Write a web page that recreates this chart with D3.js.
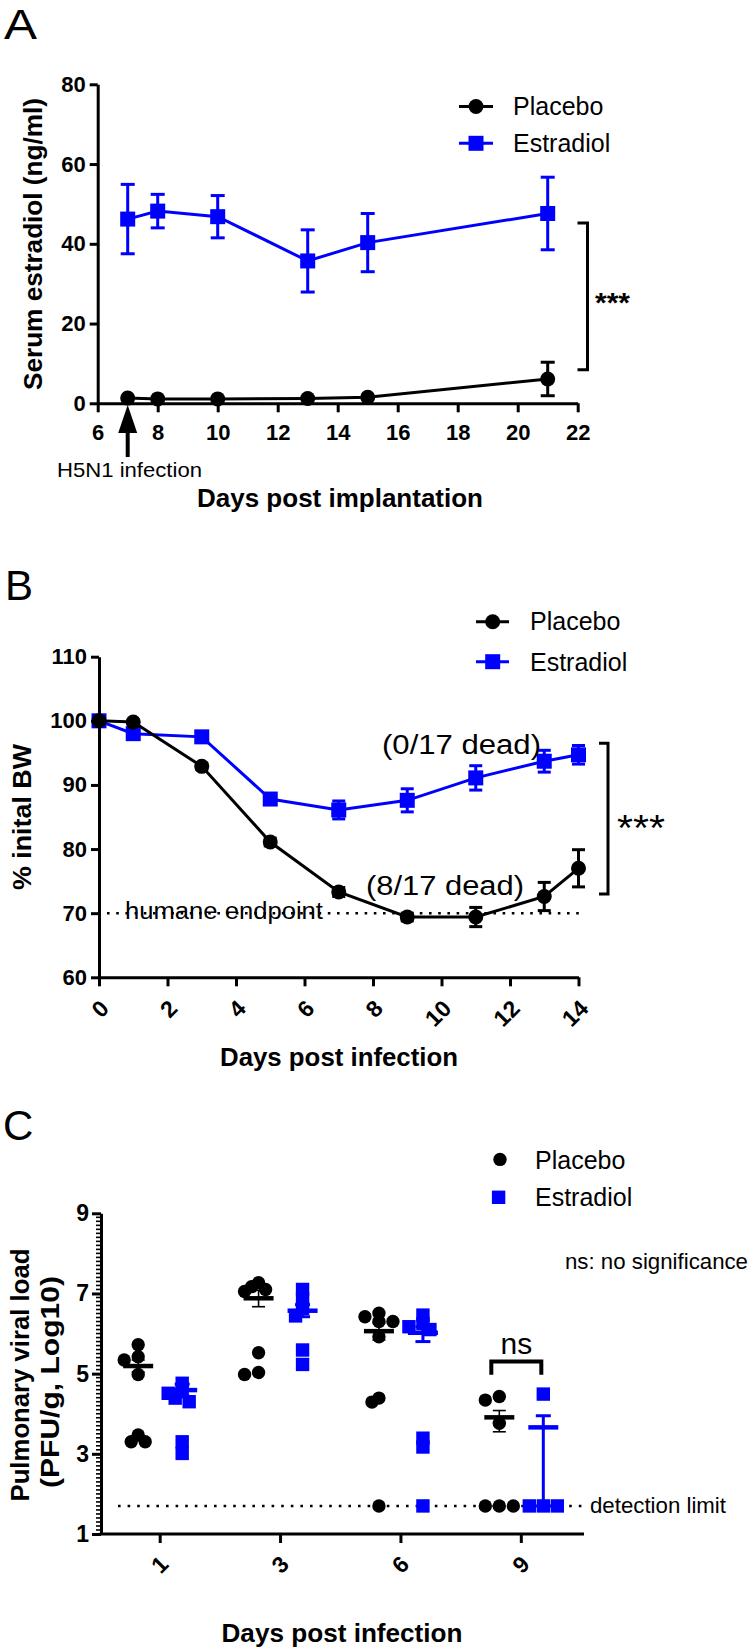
<!DOCTYPE html>
<html><head><meta charset="utf-8">
<script src="https://cdn.jsdelivr.net/npm/d3@7"></script>
<style>
body{margin:0;background:#fff}
svg{display:block}
text{font-family:"Liberation Sans",Arial,sans-serif;fill:#000}
</style>
</head><body>
<svg id="chart" width="750" height="1648"></svg>
<script>
// ---------------- DATA ----------------
const aDays = [7, 8, 10, 13, 15, 21];
const aPlaceboMean = [1.3, 1.1, 1.1, 1.2, 1.5, 6.1];
const aPlaceboErr = [0, 0, 0, 0, 0, 4.2];
const aEstradiolMean = [46.2, 48.2, 46.8, 35.7, 40.3, 47.6];
const aEstradiolErr = [8.7, 4.2, 5.3, 7.8, 7.3, 9.1];
const aXTicks = [6, 8, 10, 12, 14, 16, 18, 20, 22];
const aYTicks = [0, 20, 40, 60, 80];
const aInfectionDay = 7;
const aBracket = [45.2, 8.4];

const bDays = [0, 1, 3, 5, 7, 9, 11, 13, 14];
const bPlaceboMean = [100, 99.8, 92.9, 81.1, 73.3, 69.4, 69.4, 72.6, 77.0];
const bPlaceboErr = [0.3, 0.3, 0.5, 0.6, 0.7, 0.6, 1.5, 2.2, 2.9];
const bEstradiolMean = [100, 98.0, 97.5, 87.8, 86.1, 87.6, 91.1, 93.7, 94.7];
const bEstradiolErr = [0.3, 0.5, 0.6, 0.6, 1.4, 1.8, 1.9, 1.7, 1.45];
const bXTicks = [0, 2, 4, 6, 8, 10, 12, 14];
const bYTicks = [60, 70, 80, 90, 100, 110];
const bEndpoint = 70;
const bBracket = [96.5, 73.0];

const cDays = ["1", "3", "6", "9"];
const cPlaceboPoints = [
  [5.72, 5.42, 5.34, 4.98, 3.47, 3.30, 3.30],
  [7.27, 7.17, 7.10, 7.05, 5.52, 5.03, 4.98],
  [6.51, 6.42, 6.30, 6.30, 5.92, 4.39, 4.29, 1.7],
  [4.43, 4.34, 3.76, 1.7, 1.7, 1.7]
];
const cEstradiolPoints = [
  [4.76, 4.55, 4.51, 4.39, 4.30, 3.30, 3.01],
  [7.10, 6.86, 6.63, 6.44, 5.59, 5.23],
  [6.46, 6.25, 6.17, 6.10, 3.39, 3.17, 1.7],
  [4.49, 1.7, 1.7, 1.7]
];
const cPlaceboMean = [5.19, 6.88, 6.06, 3.91];
const cPlaceboErrUp = [0.15, 0.2, 0.2, 0.17];
const cPlaceboErrDown = [0.15, 0.21, 0.22, 0.36];
const cEstradiolMean = [4.59, 6.57, 6.02, 3.66];
const cEstradiolErrUp = [0.15, 0.15, 0.15, 0.29];
const cEstradiolErrDown = [0.15, 0.15, 0.22, 1.96];
const cYTicks = [1, 3, 5, 7, 9];
const cDetectionLimit = 1.7;
const cNsBracket = [5.3, 4.97];

// ---------------- DRAW ----------------
const BLUE = "#0000ff";
const svg = d3.select("#chart");

function styleAxis(g, fs) {
  g.selectAll("path.domain").attr("stroke", "#000").attr("stroke-width", 3);
  g.selectAll(".tick line").attr("stroke", "#000").attr("stroke-width", 3);
  g.selectAll(".tick text").attr("font-size", fs).attr("font-weight", "bold")
    .attr("font-family", '"Liberation Sans",Arial,sans-serif').attr("fill", "#000");
}
function marker(g, shape, x, y, size, color) {
  if (shape === "circle") {
    g.append("circle").attr("cx", x).attr("cy", y).attr("r", size / 2).attr("fill", color);
  } else {
    g.append("rect").attr("x", x - size / 2).attr("y", y - size / 2)
      .attr("width", size).attr("height", size).attr("fill", color);
  }
}
function errorBar(g, x, y1, y2, cap, color, w) {
  g.append("line").attr("x1", x).attr("x2", x).attr("y1", y1).attr("y2", y2)
    .attr("stroke", color).attr("stroke-width", w);
  [y1, y2].forEach(yy => g.append("line").attr("x1", x - cap / 2).attr("x2", x + cap / 2)
    .attr("y1", yy).attr("y2", yy).attr("stroke", color).attr("stroke-width", w));
}
function txt(g, t, x, y, fs, opts = {}) {
  const e = g.append("text").attr("x", x).attr("y", y).attr("font-size", fs).text(t);
  if (opts.bold) e.attr("font-weight", "bold");
  if (opts.anchor) e.attr("text-anchor", opts.anchor);
  if (opts.len) e.attr("textLength", opts.len).attr("lengthAdjust", "spacingAndGlyphs");
  if (opts.rot) e.attr("x", null).attr("y", null).attr("transform", `translate(${x},${y}) rotate(-90)`);
  return e;
}
function rotatedTickLabels(gx, dx, dy) {
  gx.selectAll(".tick text").attr("y", 0).attr("x", 0).attr("dy", "0.35em").attr("text-anchor", "end")
    .attr("transform", `translate(${dx},${dy}) rotate(-45)`);
}

// ===== Panel A =====
{
  const x = d3.scaleLinear().domain([6, 22]).range([97.7, 577.7]);
  const y = d3.scaleLinear().domain([0, 80]).range([403.3, 84.3]);
  const g = svg.append("g");
  txt(g, "A", 4, 39, 42, {len: 33});

  const gx = g.append("g").attr("transform", `translate(0,${y(0)})`)
    .call(d3.axisBottom(x).tickValues(aXTicks).tickSize(9).tickSizeOuter(0).tickPadding(12));
  styleAxis(gx, 22);
  const gy = g.append("g").attr("transform", `translate(${x(6)},0)`)
    .call(d3.axisLeft(y).tickValues(aYTicks).tickSize(8).tickSizeOuter(0).tickPadding(4));
  styleAxis(gy, 22);

  const series = [
    {mean: aEstradiolMean, err: aEstradiolErr, color: BLUE, shape: "square"},
    {mean: aPlaceboMean, err: aPlaceboErr, color: "#000", shape: "circle"}
  ];
  series.forEach(s => {
    const line = d3.line().x((d, i) => x(aDays[i])).y(d => y(d));
    g.append("path").datum(s.mean).attr("d", line).attr("fill", "none")
      .attr("stroke", s.color).attr("stroke-width", 3);
    s.mean.forEach((m, i) => {
      if (s.err[i] > 0) errorBar(g, x(aDays[i]), y(m - s.err[i]), y(m + s.err[i]), 14, s.color, 3);
      marker(g, s.shape, x(aDays[i]), y(m), 15, s.color);
    });
  });

  const ax0 = x(aInfectionDay);
  g.append("line").attr("x1", ax0).attr("x2", ax0).attr("y1", 457).attr("y2", 428)
    .attr("stroke", "#000").attr("stroke-width", 4);
  g.append("path").attr("d", `M${ax0},405 L${ax0 - 9.5},433 L${ax0 + 9.5},433 Z`).attr("fill", "#000");
  txt(g, "H5N1 infection", 57, 477, 21, {len: 145});

  const bx = 587.5;
  g.append("path").attr("d", `M${bx - 10},${y(aBracket[0])} H${bx} V${y(aBracket[1])} H${bx - 10}`)
    .attr("fill", "none").attr("stroke", "#000").attr("stroke-width", 3);
  txt(g, "***", 595, 312, 28, {bold: true, len: 35});

  txt(g, "Serum estradiol (ng/ml)", 42, 244, 26, {bold: true, anchor: "middle", len: 292, rot: true});
  txt(g, "Days post implantation", 340, 507, 25, {bold: true, anchor: "middle", len: 286});

  [["Placebo", "circle", "#000", 106.5, 115], ["Estradiol", "square", BLUE, 143.3, 152]].forEach(l => {
    g.append("line").attr("x1", 459).attr("x2", 493).attr("y1", l[3]).attr("y2", l[3])
      .attr("stroke", l[2]).attr("stroke-width", 3);
    marker(g, l[1], 476, l[3], 15, l[2]);
    txt(g, l[0], 513, l[4], 25);
  });
}

// ===== Panel B =====
{
  const x = d3.scaleLinear().domain([0, 14]).range([99, 578.5]);
  const y = d3.scaleLinear().domain([60, 110]).range([977.3, 656.7]);
  const g = svg.append("g");
  txt(g, "B", 5, 600, 42);

  const gx = g.append("g").attr("transform", `translate(0,${y(60)})`)
    .call(d3.axisBottom(x).tickValues(bXTicks).tickSize(9).tickSizeOuter(0));
  styleAxis(gx, 23);
  rotatedTickLabels(gx, 5, 27);
  const gy = g.append("g").attr("transform", `translate(${x(0)},0)`)
    .call(d3.axisLeft(y).tickValues(bYTicks).tickSize(8).tickSizeOuter(0).tickPadding(4));
  styleAxis(gy, 22);

  g.append("line").attr("x1", 107).attr("x2", 582).attr("y1", y(bEndpoint)).attr("y2", y(bEndpoint))
    .attr("stroke", "#000").attr("stroke-width", 2.6).attr("stroke-dasharray", "2.6 6.6");
  txt(g, "humane endpoint", 125, 919, 23, {len: 198});

  const series = [
    {mean: bEstradiolMean, err: bEstradiolErr, color: BLUE, shape: "square"},
    {mean: bPlaceboMean, err: bPlaceboErr, color: "#000", shape: "circle"}
  ];
  series.forEach(s => {
    const line = d3.line().x((d, i) => x(bDays[i])).y(d => y(d));
    g.append("path").datum(s.mean).attr("d", line).attr("fill", "none")
      .attr("stroke", s.color).attr("stroke-width", 3);
    s.mean.forEach((m, i) => {
      errorBar(g, x(bDays[i]), y(m - s.err[i]), y(m + s.err[i]), 13, s.color, 3);
      marker(g, s.shape, x(bDays[i]), y(m), 15, s.color);
    });
  });

  txt(g, "(0/17 dead)", 382, 754, 27, {len: 159});
  txt(g, "(8/17 dead)", 366, 895, 27, {len: 158});

  const bx = 608;
  g.append("path").attr("d", `M${bx - 9},${y(bBracket[0])} H${bx} V${y(bBracket[1])} H${bx - 9}`)
    .attr("fill", "none").attr("stroke", "#000").attr("stroke-width", 3);
  txt(g, "***", 617, 841, 36, {len: 48});

  txt(g, "% inital BW", 31, 817, 26, {bold: true, anchor: "middle", len: 146, rot: true});
  txt(g, "Days post infection", 339, 1066, 25, {bold: true, anchor: "middle", len: 238});

  [["Placebo", "circle", "#000", 621.7, 630], ["Estradiol", "square", BLUE, 661.7, 671]].forEach(l => {
    g.append("line").attr("x1", 476).attr("x2", 509).attr("y1", l[3]).attr("y2", l[3])
      .attr("stroke", l[2]).attr("stroke-width", 3);
    marker(g, l[1], 492.7, l[3], 15, l[2]);
    txt(g, l[0], 530, l[4], 25);
  });
}

// ===== Panel C =====
{
  const x = d3.scaleBand().domain(cDays).range([100, 581.5]);
  const y = d3.scaleLinear().domain([1, 9]).range([1534, 1213.3]);
  const g = svg.append("g");
  txt(g, "C", 3, 1140, 42);

  const gy = g.append("g").attr("transform", `translate(101,0)`)
    .call(d3.axisLeft(y).tickValues(cYTicks).tickSize(9).tickSizeOuter(0).tickPadding(3));
  styleAxis(gy, 23);
  const minor = d3.range(10, 91).map(v => v / 10).filter(v => !cYTicks.includes(v));
  g.append("g").selectAll("line").data(minor).join("line")
    .attr("x1", 96).attr("x2", 101).attr("y1", d => y(d)).attr("y2", d => y(d))
    .attr("stroke", "#000").attr("stroke-width", 1.6);

  g.append("line").attr("x1", 99.5).attr("x2", 584).attr("y1", y(1)).attr("y2", y(1))
    .attr("stroke", "#000").attr("stroke-width", 3);
  const gx = g.append("g").attr("transform", `translate(0,${y(1)})`)
    .call(d3.axisBottom(x).tickSize(9).tickSizeOuter(0));
  styleAxis(gx, 23);
  gx.select("path.domain").remove();
  rotatedTickLabels(gx, 4, 26);

  g.append("line").attr("x1", 118).attr("x2", 584).attr("y1", y(cDetectionLimit)).attr("y2", y(cDetectionLimit))
    .attr("stroke", "#000").attr("stroke-width", 2.6).attr("stroke-dasharray", "2.6 7");
  txt(g, "detection limit", 590, 1513, 22, {len: 136});
  txt(g, "ns: no significance", 565, 1269, 22, {len: 183});

  const OFF = 22;
  function swarm(values, cx) {
    const placed = [];
    const step = 7, minD = 8;
    values.forEach(v => {
      const py = y(v);
      for (let k = 0; k < 20; k++) {
        const o = k === 0 ? 0 : (k % 2 ? -1 : 1) * Math.ceil(k / 2) * step;
        const px = cx + o;
        if (placed.every(p => Math.hypot(p[0] - px, p[1] - py) >= minD)) { placed.push([px, py]); break; }
      }
    });
    return placed;
  }
  const groups = [
    {pts: cPlaceboPoints, mean: cPlaceboMean, up: cPlaceboErrUp, dn: cPlaceboErrDown, color: "#000", shape: "circle", off: -OFF, size: 13.4, ew: 1.6, cap: 13},
    {pts: cEstradiolPoints, mean: cEstradiolMean, up: cEstradiolErrUp, dn: cEstradiolErrDown, color: BLUE, shape: "square", off: OFF, size: 13.4, ew: 3, cap: 15}
  ];
  groups.forEach(s => {
    cDays.forEach((d, i) => {
      const cx = x(d) + x.bandwidth() / 2 + s.off;
      swarm(s.pts[i], cx).forEach(p => marker(g, s.shape, p[0], p[1], s.size, s.color));
    });
  });
  groups.forEach(s => {
    cDays.forEach((d, i) => {
      const cx = x(d) + x.bandwidth() / 2 + s.off;
      errorBar(g, cx, y(s.mean[i] - s.dn[i]), y(s.mean[i] + s.up[i]), s.cap, s.color, s.ew);
      g.append("line").attr("x1", cx - 15).attr("x2", cx + 15).attr("y1", y(s.mean[i])).attr("y2", y(s.mean[i]))
        .attr("stroke", s.color).attr("stroke-width", 4.5);
    });
  });

  const pC = x("9") + x.bandwidth() / 2 - OFF, eC = x("9") + x.bandwidth() / 2 + OFF;
  g.append("path").attr("d", `M${pC - 8},${y(cNsBracket[1])} V${y(cNsBracket[0])} H${eC - 2} V${y(cNsBracket[1])}`)
    .attr("fill", "none").attr("stroke", "#000").attr("stroke-width", 4);
  txt(g, "ns", (pC + eC) / 2 - 5, 1354, 30, {anchor: "middle"});

  txt(g, "Pulmonary viral load", 29, 1375, 26, {bold: true, anchor: "middle", len: 253, rot: true});
  txt(g, "(PFU/g, Log10)", 58.5, 1382, 26, {bold: true, anchor: "middle", len: 212, rot: true});
  txt(g, "Days post infection", 342, 1642, 25, {bold: true, anchor: "middle", len: 241});

  marker(g, "circle", 500, 1159.4, 13.4, "#000");
  marker(g, "square", 498.6, 1197.3, 13.4, BLUE);
  txt(g, "Placebo", 535, 1168.5, 25);
  txt(g, "Estradiol", 535, 1205.6, 25);
}
</script>
</body></html>
